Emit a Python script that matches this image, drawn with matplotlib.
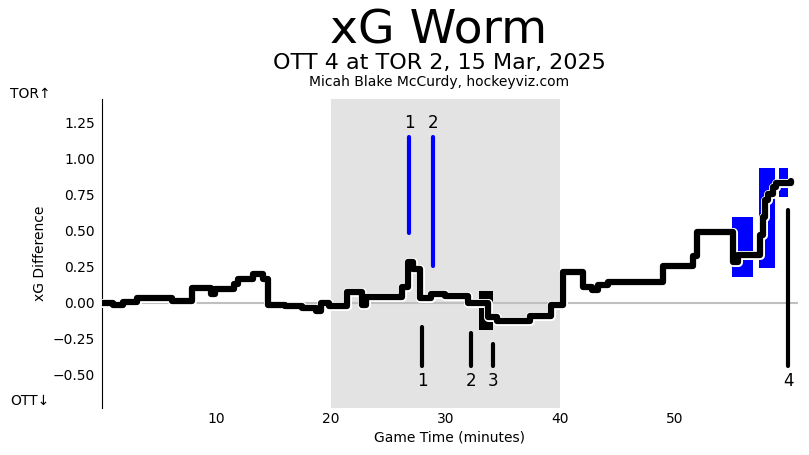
import matplotlib.pyplot as plt
import matplotlib.patheffects as pe
from matplotlib.patches import Rectangle

# worm: step points (game minute, cumulative xG difference TOR - OTT)
worm_t = [0.0, 1.0, 1.8, 3.1, 6.1, 7.9, 9.5, 9.9, 11.5, 11.9, 13.2, 14.1, 14.5,
          16.0, 17.5, 18.7, 19.1, 19.8, 21.4, 22.7, 23.1, 26.2, 26.7, 27.2,
          27.8, 28.7, 30.0, 32.0, 33.7, 34.5, 37.4, 39.2, 40.3, 42.0, 42.8,
          43.3, 44.2, 49.0, 51.6, 52.0, 55.1, 55.6, 57.5, 57.7, 57.9, 58.2,
          58.6, 58.9, 60.2]
worm_v = [0.0, -0.02, 0.005, 0.03, 0.01, 0.10, 0.06, 0.095, 0.13, 0.165, 0.20,
          0.16, -0.015, -0.025, -0.035, -0.06, 0.0, -0.025, 0.07, -0.02, 0.04,
          0.11, 0.28, 0.23, 0.035, 0.06, 0.045, 0.0, -0.10, -0.13, -0.09,
          -0.015, 0.21, 0.11, 0.09, 0.125, 0.14, 0.25, 0.32, 0.49, 0.28, 0.33,
          0.47, 0.59, 0.71, 0.75, 0.80, 0.83, 0.84]

# goals: time, top and bottom of marker line
tor_goal_t = [26.86, 28.95]
tor_goal_top = [1.15, 1.15]
tor_goal_bot = [0.48, 0.25]
tor_goal_lbl = ["1", "2"]

ott_goal_t = [27.99, 32.27, 34.19, 59.96]
ott_goal_top = [-0.17, -0.21, -0.29, 0.64]
ott_goal_bot = [-0.44, -0.44, -0.44, -0.44]
ott_goal_lbl = ["1", "2", "3", "4"]

# power plays: start, end, low, high, colour
pp_start = [32.9, 55.0, 57.4, 59.1]
pp_end = [34.15, 56.9, 58.8, 59.9]
pp_low = [-0.19, 0.175, 0.24, 0.73]
pp_high = [0.083, 0.59, 0.93, 0.935]
pp_color = ["black", "blue", "blue", "blue"]

fig = plt.figure(figsize=(8.09, 4.55), dpi=100)
ax = fig.add_axes([102/809, 1 - 408/455, 696/809, 309/455])

ax.set_xlim(0, 60.8)
ax.set_ylim(-0.73, 1.41)

ax.axvspan(20, 40, color="#e3e3e3", lw=0, zorder=0)
ax.axhline(0, color="#c0c0c0", lw=1.5, zorder=1)

for s, e, lo, hi, c in zip(pp_start, pp_end, pp_low, pp_high, pp_color):
    ax.add_patch(Rectangle((s, lo), e - s, hi - lo, color=c, lw=0, zorder=2))

ax.step(worm_t, worm_v, where="post", color="black", lw=4.5, zorder=4,
        solid_joinstyle="round", solid_capstyle="round",
        path_effects=[pe.Stroke(linewidth=6.5, foreground="white"), pe.Normal()])

for t, top, bot, lbl in zip(tor_goal_t, tor_goal_top, tor_goal_bot, tor_goal_lbl):
    ax.plot([t, t], [bot, top], color="blue", lw=3, solid_capstyle="round", zorder=3)
    ax.text(t, top + 0.03, lbl, ha="center", va="bottom", fontsize=12)

for t, top, bot, lbl in zip(ott_goal_t, ott_goal_top, ott_goal_bot, ott_goal_lbl):
    ax.plot([t, t], [bot, top], color="black", lw=3, solid_capstyle="round", zorder=3)
    ax.text(t, bot - 0.04, lbl, ha="center", va="top", fontsize=12)

ax.set_xticks([10, 20, 30, 40, 50])
ax.set_yticks([-0.5, -0.25, 0, 0.25, 0.5, 0.75, 1.0, 1.25])
ax.tick_params(length=0, labelsize=10)
ax.tick_params(axis="y", pad=5)
ax.tick_params(axis="x", pad=3)
for side in ["top", "right", "bottom"]:
    ax.spines[side].set_visible(False)
ax.set_xlabel("Game Time (minutes)", fontsize=10, labelpad=3)
ax.set_ylabel("xG Difference", fontsize=10)

cx = 439 / 809
fig.text(cx, 1 - 31/455, "xG Worm", ha="center", va="center", fontsize=34)
fig.text(cx, 1 - 63/455, "OTT 4 at TOR 2, 15 Mar, 2025", ha="center", va="center", fontsize=16)
fig.text(cx, 1 - 82/455, "Micah Blake McCurdy, hockeyviz.com", ha="center", va="center", fontsize=10)
fig.text(10/809, 1 - 94/455, "TOR\u2191", ha="left", va="center", fontsize=10)
fig.text(10/809, 1 - 401/455, "OTT\u2193", ha="left", va="center", fontsize=10)

fig.savefig("out.png", dpi=100)
